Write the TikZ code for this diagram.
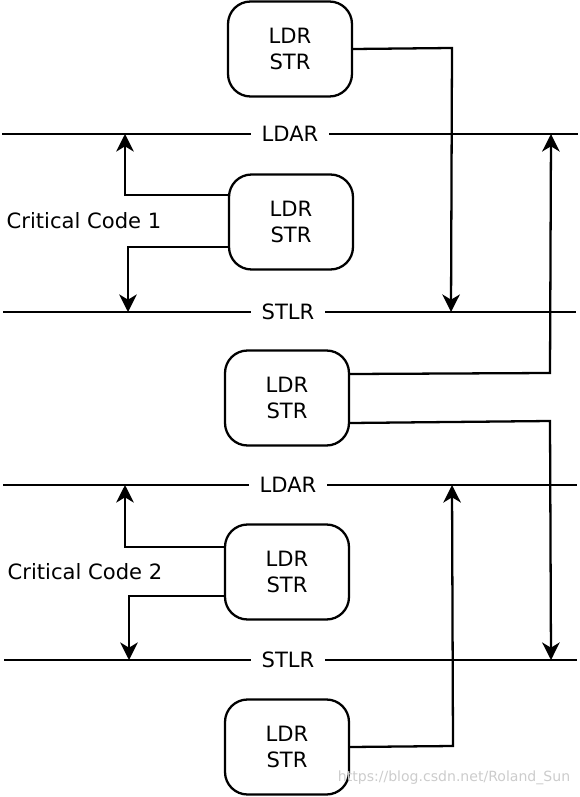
\documentclass[tikz,border=0pt]{standalone}
\usepackage{fontspec}
\setmainfont{DejaVu Sans}
\usetikzlibrary{arrows.meta,calc}

\begin{document}
\begin{tikzpicture}[x=0.02cm,y=-0.02cm,line width=1.3pt,
	font=\fontsize{12}{14.8}\selectfont,
	box/.style={draw,rounded corners=0.45cm,minimum width=2.48cm,minimum height=1.9cm,align=center},
	bar/.style={fill=white,inner xsep=5.5pt,inner ysep=1pt},
	arr/.style={-{Stealth[length=10pt,width=10pt,inset=3pt]}}]
	\useasboundingbox (0,0) rectangle (579,797);
	% the four barriers
	\node (ldarA) at (290,134)[bar] {LDAR};
	\node (stlrA) at (288,312)[bar] {STLR};
	\node (ldarB) at (288,485)[bar] {LDAR};
	\node (stlrB) at (288,660)[bar] {STLR};
	\coordinate (ldarAw) at (2,134);   \coordinate (ldarAe) at (578,134);
	\coordinate (stlrAw) at (3,312);   \coordinate (stlrAe) at (576,312);
	\coordinate (ldarBw) at (3,485);   \coordinate (ldarBe) at (577,485);
	\coordinate (stlrBw) at (4,660);   \coordinate (stlrBe) at (577,660);
	\draw (ldarAw)--(ldarA)--(ldarAe);
	\draw (stlrAw)--(stlrA)--(stlrAe);
	\draw (ldarBw)--(ldarB)--(ldarBe);
	\draw (stlrBw)--(stlrB)--(stlrBe);
	% loads and stores
	\node (ls1) at (290,49)[box] {LDR\\STR};
	\node (ls2) at (291,222)[box] {LDR\\STR};
	\node (ls3) at (287,398)[box] {LDR\\STR};
	\node (ls4) at (287,572)[box] {LDR\\STR};
	\node (ls5) at (287,747)[box] {LDR\\STR};
	\node (cc1) at (84,221) {Critical Code 1};
	\node (cc2) at (85,572) {Critical Code 2};
	% moving in and out
	\coordinate (k1) at (452,48);  \coordinate (t1) at (451,312);
	\draw[arr] (ls1.east)--(k1)--(t1);
	\coordinate (k2) at (125,195); \coordinate (t2) at (125,134);
	\draw[arr] ($(ls2.west)+(0,-27)$)--(k2)--(t2);
	\coordinate (k3) at (128,247); \coordinate (t3) at (128,312);
	\draw[arr] ($(ls2.west)+(0,25)$)--(k3)--(t3);
	\coordinate (k4) at (550,373); \coordinate (t4) at (551,134);
	\draw[arr] ($(ls3.east)+(0,-24)$)--(k4)--(t4);
	\coordinate (k5) at (550,421); \coordinate (t5) at (551,660);
	\draw[arr] ($(ls3.east)+(0,25)$)--(k5)--(t5);
	\coordinate (k6) at (125,547); \coordinate (t6) at (125,485);
	\draw[arr] ($(ls4.west)+(0,-25)$)--(k6)--(t6);
	\coordinate (k7) at (129,596); \coordinate (t7) at (129,660);
	\draw[arr] ($(ls4.west)+(0,24)$)--(k7)--(t7);
	\coordinate (k8) at (453,746); \coordinate (t8) at (452,485);
	\draw[arr] (ls5.east)--(k8)--(t8);
	\node (wm) at (454,778)[text=black!20,font=\fontsize{8}{8}\selectfont] {https://blog.csdn.net/Roland\_Sun};
\end{tikzpicture}
\end{document}
